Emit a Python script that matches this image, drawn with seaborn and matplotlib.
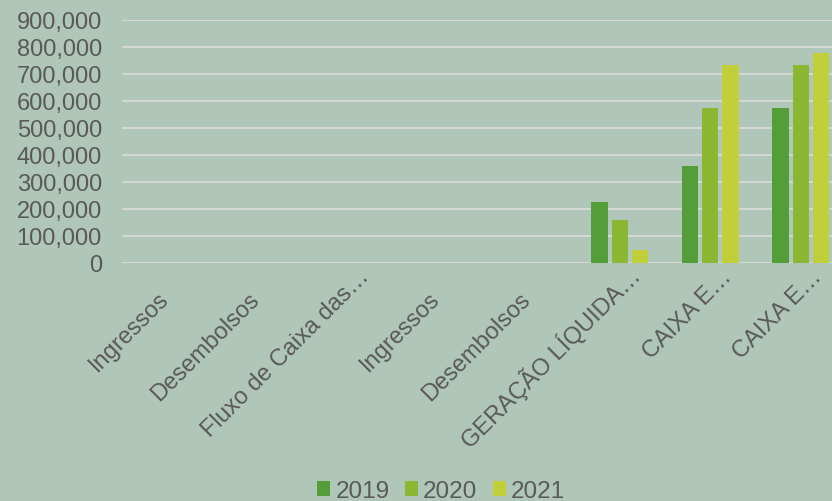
import matplotlib
matplotlib.use("Agg")
import matplotlib.pyplot as plt
import matplotlib.transforms as mtransforms
from matplotlib.patches import Patch
import seaborn as sns
import pandas as pd

# Category labels (as shown, truncated) and yearly values
categories = ["Ingressos", "Desembolsos", "Fluxo de Caixa das…", "Ingressos",
              "Desembolsos", "GERAÇÃO LÍQUIDA…", "CAIXA E…", "CAIXA E…"]
years = ["2019", "2020", "2021"]
values_2019 = [0, 0, 0, 0, 0, 224000, 357000, 572000]
values_2020 = [0, 0, 0, 0, 0, 157000, 572000, 731000]
values_2021 = [0, 0, 0, 0, 0, 46000, 731000, 777000]
colors = ["#549E39", "#8AB833", "#C0CF3A"]

bg = "#B0C6B9"
text_color = "#595959"
fs = 17

rows = []
for year, vals in zip(years, [values_2019, values_2020, values_2021]):
    for i, v in enumerate(vals):
        rows.append({"pos": i, "year": year, "value": v})
df = pd.DataFrame(rows)

sns.set_theme(style="white")
plt.rcParams["font.family"] = ["Liberation Sans", "DejaVu Sans"]

fig = plt.figure(figsize=(8.32, 5.02), dpi=100, facecolor=bg)
W, H = 832, 502
left, right, top, bottom = 122, 846, 20.5, 263.5
ax = fig.add_axes([left / W, 1 - bottom / H, (right - left) / W, (bottom - top) / H])
ax.set_facecolor(bg)

sns.barplot(data=df, x="pos", y="value", hue="year", order=list(range(8)),
            hue_order=years, palette=colors, saturation=1, width=0.67, gap=0.19,
            linewidth=0, ax=ax, legend=False, zorder=3)

ax.set_ylim(0, 900000)
ax.set_xlim(-0.5, 7.5)
ax.set_yticks(range(0, 900001, 100000))
ax.set_yticklabels([f"{v:,}" for v in range(0, 900001, 100000)])
ax.yaxis.grid(True, color="#D9D9D9", linewidth=1.3, zorder=0)
ax.set_axisbelow(True)
for s in ax.spines.values():
    s.set_visible(False)
ax.set_xlabel("")
ax.set_ylabel("")
ax.tick_params(axis="y", length=0, pad=14.4, labelsize=fs, labelcolor=text_color)

# Rotated category labels, anchored at the end of their baseline
ax.set_xticks(range(8))
ax.set_xticklabels(categories, rotation=45, ha="right", va="baseline",
                   rotation_mode="anchor", fontsize=fs, color=text_color)
ax.tick_params(axis="x", length=0, pad=0)
for lbl in ax.get_xticklabels():
    if lbl.get_text().endswith("…"):
        dx, dy = 22, 14.5
    else:
        dx, dy = 2, 37
    off = mtransforms.ScaledTranslation(dx / 100, -dy / 100, fig.dpi_scale_trans)
    lbl.set_y(0)
    lbl.set_transform(ax.get_xaxis_transform() + off)

handles = [Patch(facecolor=c, edgecolor="none") for c in colors]
fig.legend(handles, years, loc="center", bbox_to_anchor=(441 / W, 1 - 492 / H),
           ncol=3, frameon=False, fontsize=17.5, labelcolor=text_color,
           handlelength=0.55, handleheight=0.55, handletextpad=0.2,
           columnspacing=0.63, borderaxespad=0)

fig.savefig("out.png", dpi=100, facecolor=bg)
